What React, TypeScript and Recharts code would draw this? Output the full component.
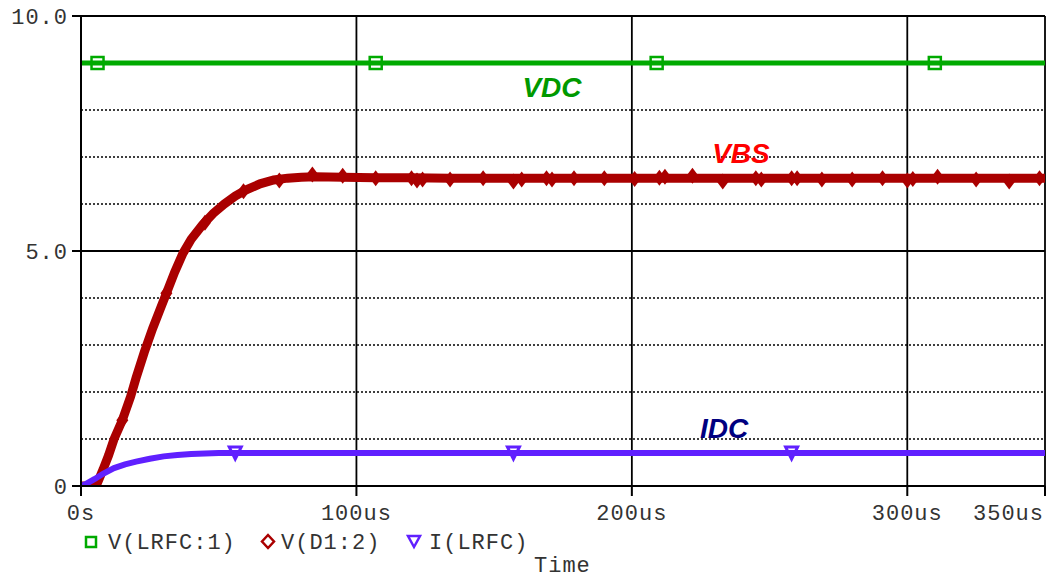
import React from "react";
import {
  ComposedChart,
  Line,
  Scatter,
  XAxis,
  YAxis,
  CartesianGrid,
  ReferenceDot,
} from "recharts";

// axis ticks / grid levels
const xTicks = [0, 100, 200, 300, 350];
const yTicks = [0, 5, 10];
const dottedLevels = [1, 2, 3, 4, 6, 7, 8, 9];
const solidLevels = [5, 10];
const solidTimes = [100, 200, 300, 350];

// V(LRFC:1)  -> VDC
const vdcTime = [0, 350];
const vdcValue = [9.0, 9.0];
const vdcMarkTime = [6, 107, 209, 310];
const vdcMarkValue = [9.0, 9.0, 9.0, 9.0];

// V(D1:2) -> VBS
const vbsTime = [
  0, 5.5, 8, 10, 12, 15, 18, 20, 23, 26, 29, 31, 34, 37, 40, 44, 48, 52, 56,
  60, 65, 70, 75, 80, 85, 95, 107, 120, 134, 146, 157, 168, 179, 190, 201,
  210, 222, 233, 245, 258, 269, 280, 291, 303, 311, 325, 337, 350,
];
const vbsValue = [
  0, 0, 0.35, 0.65, 1.0, 1.4, 1.9, 2.3, 2.85, 3.35, 3.8, 4.1, 4.55, 4.95,
  5.25, 5.55, 5.8, 6.0, 6.17, 6.3, 6.43, 6.51, 6.55, 6.57, 6.58, 6.57, 6.56,
  6.56, 6.55, 6.55, 6.55, 6.55, 6.55, 6.55, 6.55, 6.55, 6.55, 6.55, 6.55,
  6.55, 6.55, 6.55, 6.55, 6.55, 6.55, 6.55, 6.55, 6.55,
];
const vbsMarkTime = [
  15, 31, 45, 59, 72, 84, 95, 107, 120, 122, 124, 134, 146, 157, 160, 169,
  171, 179, 190, 201, 210, 212, 222, 233, 245, 247, 258, 260, 269, 280, 291,
  300, 302, 311, 325, 337, 348,
];
const vbsMarkValue = [
  1.4, 4.1, 5.6, 6.27, 6.5, 6.63, 6.6, 6.55, 6.55, 6.5, 6.52, 6.52, 6.55,
  6.48, 6.52, 6.55, 6.52, 6.55, 6.55, 6.53, 6.56, 6.58, 6.6, 6.48, 6.55, 6.52,
  6.55, 6.55, 6.52, 6.52, 6.55, 6.5, 6.53, 6.58, 6.52, 6.48, 6.55,
];

// I(LRFC) -> IDC
const idcTime = [0, 2, 5, 8, 12, 16, 20, 25, 30, 35, 40, 50, 60, 350];
const idcValue = [0, 0.05, 0.15, 0.26, 0.38, 0.46, 0.52, 0.58, 0.63, 0.66, 0.68, 0.7, 0.7, 0.7];
const idcMarkTime = [56, 157, 258];
const idcMarkValue = [0.7, 0.7, 0.7];

const zip = (t: number[], v: number[]) => t.map((x, i) => ({ t: x, v: v[i] }));

const vdcData = zip(vdcTime, vdcValue);
const vbsData = zip(vbsTime, vbsValue);
const idcData = zip(idcTime, idcValue);
const vdcMarks = zip(vdcMarkTime, vdcMarkValue);
const vbsMarks = zip(vbsMarkTime, vbsMarkValue);
const idcMarks = zip(idcMarkTime, idcMarkValue);

const GREEN = "#00aa00";
const RED = "#aa0000";
const BLUE = "#6020ff";
const MONO = "'Liberation Mono', 'DejaVu Sans Mono', monospace";
const SANS = "'Liberation Sans', Arial, sans-serif";
const TEXT = "#333";

const SquareMark = (p: any) => (
  <rect x={p.cx - 6} y={p.cy - 6} width={12} height={12} fill="none" stroke={GREEN} strokeWidth={2.5} />
);
const DiamondMark = (p: any) => (
  <polygon
    points={`${p.cx},${p.cy - 8} ${p.cx + 6},${p.cy} ${p.cx},${p.cy + 8} ${p.cx - 6},${p.cy}`}
    fill={RED}
  />
);
const TriangleMark = (p: any) => (
  <polygon
    points={`${p.cx - 6},${p.cy - 6} ${p.cx + 6},${p.cy - 6} ${p.cx},${p.cy + 6}`}
    fill="none"
    stroke={BLUE}
    strokeWidth={3}
  />
);

function TimeTick({ x, y, payload }: any) {
  const last = payload.value === 350;
  return (
    <text
      x={last ? x - 1 : x}
      y={y + 22}
      textAnchor={last ? "end" : "middle"}
      fontFamily={MONO}
      fontSize={22}
      letterSpacing={1}
      fill={TEXT}
    >
      {payload.value === 0 ? "0s" : `${payload.value}us`}
    </text>
  );
}

const yFmt = (v: number) => (v === 0 ? "0" : v.toFixed(1));

const labelStyle = { fontFamily: SANS, fontWeight: 700, fontStyle: "italic", fontSize: 28 };

export default function App() {
  return (
    <div style={{ position: "absolute", left: 0, top: 0, width: 1047, height: 580, background: "#fff" }}>
      <ComposedChart
        width={1047}
        height={580}
        margin={{ top: 16, right: 2, bottom: 0, left: 11 }}
      >
        <CartesianGrid
          horizontalValues={dottedLevels}
          vertical={false}
          stroke="#000"
          strokeWidth={1.5}
          strokeDasharray="2 2"
        />
        <CartesianGrid
          horizontalValues={solidLevels}
          verticalValues={solidTimes}
          stroke="#000"
          strokeWidth={1.8}
        />
        <XAxis
          type="number"
          dataKey="t"
          domain={[0, 350]}
          ticks={xTicks}
          interval={0}
          height={94}
          tickSize={10}
          axisLine={{ stroke: "#000", strokeWidth: 2 }}
          tickLine={{ stroke: "#000", strokeWidth: 2 }}
          tick={<TimeTick />}
          allowDataOverflow
        />
        <YAxis
          type="number"
          domain={[0, 10]}
          ticks={yTicks}
          interval={0}
          width={70}
          tickSize={9}
          tickMargin={4}
          tickFormatter={yFmt}
          axisLine={{ stroke: "#000", strokeWidth: 2 }}
          tickLine={{ stroke: "#000", strokeWidth: 2 }}
          tick={{ fontFamily: MONO, fontSize: 22, fill: TEXT, letterSpacing: 1 }}
          allowDataOverflow
        />
        <Line data={vdcData} dataKey="v" stroke={GREEN} strokeWidth={5} dot={false} type="linear" isAnimationActive={false} />
        <Line data={vbsData} dataKey="v" stroke={RED} strokeWidth={9} dot={false} type="linear" isAnimationActive={false} />
        <Line data={idcData} dataKey="v" stroke={BLUE} strokeWidth={6} dot={false} type="linear" isAnimationActive={false} />
        <Scatter data={vdcMarks} dataKey="v" shape={SquareMark} isAnimationActive={false} />
        <Scatter data={vbsMarks} dataKey="v" shape={DiamondMark} isAnimationActive={false} />
        <Scatter data={idcMarks} dataKey="v" shape={TriangleMark} isAnimationActive={false} />
        <ReferenceDot x={171} y={8.48} r={0} stroke="none" label={{ value: "VDC", position: "center", fill: "#009900", ...labelStyle }} />
        <ReferenceDot x={239.6} y={7.09} r={0} stroke="none" label={{ value: "VBS", position: "center", fill: "#ff0000", ...labelStyle }} />
        <ReferenceDot x={233.5} y={1.23} r={0} stroke="none" label={{ value: "IDC", position: "center", fill: "#000080", ...labelStyle }} />
      </ComposedChart>
      <svg
        width={1047}
        height={580}
        style={{ position: "absolute", left: 0, top: 0, pointerEvents: "none" }}
      >
        <g fontFamily={MONO} fontSize={22} letterSpacing={1} fill={TEXT}>
          <rect x={86} y={537} width={10} height={10} fill="none" stroke={GREEN} strokeWidth={2.5} />
          <text x={108} y={549}>V(LRFC:1)</text>
          <polygon points="268,535 274,541.5 268,548 262,541.5" fill="none" stroke={RED} strokeWidth={2.5} />
          <text x={281} y={549}>V(D1:2)</text>
          <polygon points="408,536 420,536 414,547" fill="none" stroke={BLUE} strokeWidth={2.5} />
          <text x={429} y={549}>I(LRFC)</text>
          <text x={534} y={572}>Time</text>
        </g>
      </svg>
    </div>
  );
}
